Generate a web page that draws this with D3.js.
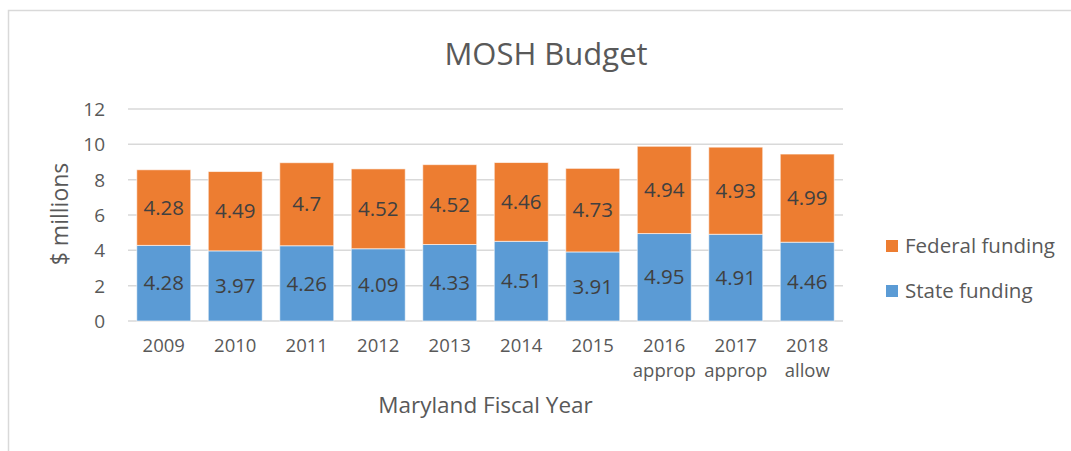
<!DOCTYPE html>
<html><head><meta charset="utf-8">
<script src="https://cdn.jsdelivr.net/npm/d3@7"></script>
<style>body{margin:0;background:#fff}</style>
</head><body>
<svg id="c" width="1071" height="451"></svg>
<script>
const categories = [["2009"],["2010"],["2011"],["2012"],["2013"],["2014"],["2015"],["2016","approp"],["2017","approp"],["2018","allow"]];
const stateFunding = [4.28,3.97,4.26,4.09,4.33,4.51,3.91,4.95,4.91,4.46];
const federalFunding = [4.28,4.49,4.7,4.52,4.52,4.46,4.73,4.94,4.93,4.99];
const yTicks = [0,2,4,6,8,10,12];
const seriesNames = ["State funding","Federal funding"];

const font = "Open Sans, sans-serif";
const svg = d3.select("#c");
svg.append("rect").attr("x",8.5).attr("y",10.5).attr("width",1100).attr("height",500)
  .attr("fill","#fff").attr("stroke","#d9d9d9").attr("stroke-width",1.5);

const m = {l:128, r:843, t:109, b:321};
const keys = categories.map(c=>c.join(" "));
const x = d3.scaleBand().domain(keys).range([m.l,m.r]).paddingInner(0.245).paddingOuter(0.1225);
const y = d3.scaleLinear().domain([0,12]).range([m.b,m.t]);

const g = svg.append("g");
g.selectAll("line.grid").data(yTicks).enter().append("line")
  .attr("x1",m.l).attr("x2",m.r).attr("y1",d=>y(d)).attr("y2",d=>y(d))
  .attr("stroke","#d9d9d9").attr("stroke-width",1.5);

const yAxis = d3.axisLeft(y).tickValues(yTicks).tickSize(0).tickPadding(0);
const ya = g.append("g").attr("transform",`translate(105,0)`).call(yAxis);
ya.select(".domain").remove();
ya.selectAll("text").attr("font-family",font).attr("font-size",19).attr("fill","#595959").attr("dy","0.35em");

const rows = keys.map((k,i)=>({k, s:stateFunding[i], f:federalFunding[i]}));
const stack = d3.stack().keys(["s","f"])(rows);
const colors = {s:"#5B9BD5", f:"#ED7D31"};
stack.forEach(layer=>{
  const key = layer.key;
  g.selectAll("rect."+key).data(layer).enter().append("rect")
    .attr("x",d=>x(d.data.k)).attr("width",x.bandwidth())
    .attr("y",d=>y(d[1])).attr("height",d=>y(d[0])-y(d[1]))
    .attr("fill",colors[key]).attr("stroke","#fff").attr("stroke-opacity",0.6).attr("stroke-width",1);
  g.selectAll("text."+key).data(layer).enter().append("text")
    .attr("x",d=>x(d.data.k)+x.bandwidth()/2).attr("y",d=>(y(d[0])+y(d[1]))/2)
    .attr("dy","0.35em").attr("text-anchor","middle")
    .attr("font-family",font).attr("font-size",20.5).attr("fill","#404040")
    .text(d=>d.data[key]);
});

const xAxis = d3.axisBottom(x).tickSize(0).tickFormat("");
const xa = g.append("g").attr("transform",`translate(0,${m.b})`).call(xAxis);
xa.select(".domain").remove();
categories.forEach((c,i)=>{
  const t = g.append("text").attr("x",x(keys[i])+x.bandwidth()/2).attr("y",352)
    .attr("text-anchor","middle").attr("font-family",font).attr("font-size",18.5).attr("fill","#595959");
  c.forEach((line,j)=>t.append("tspan").attr("x",x(keys[i])+x.bandwidth()/2).attr("dy",j?25:0).text(line));
});

svg.append("text").attr("x",546).attr("y",65).attr("text-anchor","middle")
  .attr("font-family",font).attr("font-size",31).attr("fill","#595959").text("MOSH Budget");
svg.append("text").attr("x",(m.l+m.r)/2).attr("y",413).attr("text-anchor","middle")
  .attr("font-family",font).attr("font-size",22.5).attr("fill","#595959").text("Maryland Fiscal Year");
svg.append("text").attr("transform","translate(60,214) rotate(-90)").attr("text-anchor","middle").attr("dy","0.35em")
  .attr("font-family",font).attr("font-size",23).attr("fill","#595959").text("$ millions");

const legend = [{n:seriesNames[1],c:colors.f,y:246},{n:seriesNames[0],c:colors.s,y:291}];
legend.forEach(l=>{
  svg.append("rect").attr("x",886).attr("y",l.y-6).attr("width",12).attr("height",12).attr("fill",l.c);
  svg.append("text").attr("x",905).attr("y",l.y).attr("dy","0.35em")
    .attr("font-family",font).attr("font-size",20.5).attr("fill","#595959").text(l.n);
});
</script>
</body></html>
